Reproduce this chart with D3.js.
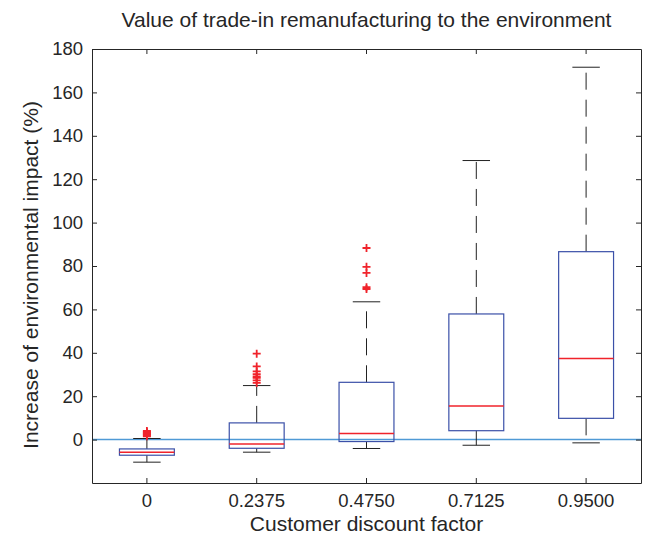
<!DOCTYPE html>
<html>
<head>
<meta charset="utf-8">
<script src="https://cdn.jsdelivr.net/npm/d3@7"></script>
<style>
  body { margin: 0; background: #fff; }
  svg text { font-family: "Liberation Sans", Arial, Helvetica, sans-serif; fill: #262626; }
</style>
</head>
<body>
<div class="svg-div"></div>
<script>
// box statistics, one entry per discount factor
const categories = ["0", "0.2375", "0.4750", "0.7125", "0.9500"];
const lowerWhisker = [-10.4, -5.8, -4.1, -2.6, -1.5];
const q1 = [-7.2, -4.0, -0.9, 4.1, 9.8];
const median = [-5.8, -2.0, 2.8, 15.5, 37.4];
const q3 = [-4.3, 7.7, 26.4, 57.9, 86.6];
const upperWhisker = [0.5, 24.9, 63.5, 128.6, 171.6];
const outliers = [
  [1.5, 2.0, 2.5, 3.0, 3.5, 4.0],
  [26.1, 27.3, 28.4, 29.1, 30.2, 31.4, 33.7, 39.6],
  [69.4, 70.2, 76.8, 79.6, 88.3],
  [],
  []
];
const yTicks = [0, 20, 40, 60, 80, 100, 120, 140, 160, 180];

const svgWidth = 645, svgHeight = 542;
const margin = {top: 49, right: 4, bottom: 59, left: 92};
let width = svgWidth - margin.left - margin.right;
let height = svgHeight - margin.top - margin.bottom;

let svg = d3.select(".svg-div").append("svg")
  .attr("width", svgWidth)
  .attr("height", svgHeight);

let boxes = categories.map(function (c, i) {
  return {cat: c, lo: lowerWhisker[i], q1: q1[i], med: median[i], q3: q3[i], hi: upperWhisker[i], out: outliers[i]};
});

let x = d3.scaleBand()
  .domain(categories)
  .range([0, width])
  .padding(0);

let y = d3.scaleLinear()
  .domain([-20, 180])
  .range([height, 0]);

let g = svg.append("g")
  .attr("transform", "translate(" + margin.left + "," + margin.top + ")");

const axisColor = "#262626";
const boxColor = "#3b50a8";
const medColor = "#f0232b";

// zero reference line
g.append("line")
  .attr("x1", 0).attr("x2", width)
  .attr("y1", y(0)).attr("y2", y(0))
  .style("stroke", "#4f9ad6")
  .style("stroke-width", 1.5);

let bw = x.bandwidth() * 0.5;
let cw = x.bandwidth() * 0.25;

let bg = g.selectAll(".box")
  .data(boxes)
  .enter()
  .append("g")
  .attr("class", "box")
  .attr("transform", function (d) { return "translate(" + (x(d.cat) + x.bandwidth() / 2) + ",0)"; });

// whiskers drawn outward from the box so the dash starts at the box
bg.append("line")
  .attr("y1", function (d) { return y(d.q3); })
  .attr("y2", function (d) { return y(d.hi); })
  .style("stroke", "#222")
  .style("stroke-width", 1)
  .style("stroke-dasharray", "17,10");

bg.append("line")
  .attr("y1", function (d) { return y(d.q1); })
  .attr("y2", function (d) { return y(d.lo); })
  .style("stroke", "#222")
  .style("stroke-width", 1)
  .style("stroke-dasharray", "17,10");

// caps
bg.selectAll(".cap")
  .data(function (d) { return [d.lo, d.hi]; })
  .enter()
  .append("line")
  .attr("class", "cap")
  .attr("x1", -cw / 2).attr("x2", cw / 2)
  .attr("y1", function (v) { return y(v); })
  .attr("y2", function (v) { return y(v); })
  .style("stroke", "#222")
  .style("stroke-width", 1);

bg.append("rect")
  .attr("x", -bw / 2)
  .attr("width", bw)
  .attr("y", function (d) { return y(d.q3); })
  .attr("height", function (d) { return y(d.q1) - y(d.q3); })
  .style("fill", "none")
  .style("stroke", boxColor)
  .style("stroke-width", 1.2);

bg.append("line")
  .attr("x1", -bw / 2).attr("x2", bw / 2)
  .attr("y1", function (d) { return y(d.med); })
  .attr("y2", function (d) { return y(d.med); })
  .style("stroke", medColor)
  .style("stroke-width", 1.4);

// outliers as red plus signs
bg.selectAll(".out")
  .data(function (d) { return d.out; })
  .enter()
  .append("path")
  .attr("class", "out")
  .attr("d", function (v) {
    let cy = y(v);
    return "M-4," + cy + "H4M0," + (cy - 4) + "V" + (cy + 4);
  })
  .style("stroke", medColor)
  .style("stroke-width", 1.8)
  .style("fill", "none");

// axes with inward ticks, matlab style
let xAxis = g.append("g")
  .attr("class", "x axis")
  .attr("transform", "translate(0," + height + ")")
  .call(d3.axisBottom(x).tickSizeInner(-5).tickSizeOuter(0).tickPadding(11));

let xTop = g.append("g")
  .call(d3.axisTop(x).tickSizeInner(-5).tickSizeOuter(0).tickFormat(""));

let yAxis = g.append("g")
  .attr("class", "y axis")
  .call(d3.axisLeft(y).tickValues(yTicks).tickSizeInner(-5).tickSizeOuter(0).tickPadding(9));

let yRight = g.append("g")
  .attr("transform", "translate(" + width + ",0)")
  .call(d3.axisRight(y).tickValues(yTicks).tickSizeInner(-5).tickSizeOuter(0).tickFormat(""));

g.selectAll(".domain, .tick line")
  .style("stroke", axisColor)
  .style("stroke-width", 1);

g.selectAll(".tick text")
  .style("font-size", "18.5px")
  .style("fill", axisColor);

svg.append("text")
  .attr("x", margin.left + width / 2)
  .attr("y", 27)
  .attr("text-anchor", "middle")
  .style("font-size", "21px")
  .text("Value of trade-in remanufacturing to the environment");

svg.append("text")
  .attr("x", margin.left + width / 2)
  .attr("y", 531)
  .attr("text-anchor", "middle")
  .style("font-size", "21px")
  .text("Customer discount factor");

svg.append("text")
  .attr("transform", "translate(38," + (margin.top + height / 2 + 9) + ") rotate(-90)")
  .attr("text-anchor", "middle")
  .style("font-size", "21px")
  .text("Increase of environmental impact (%)");
</script>
</body>
</html>
